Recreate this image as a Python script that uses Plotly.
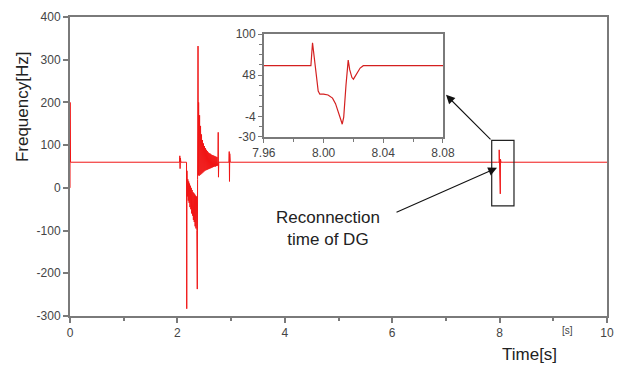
import plotly.graph_objects as go

# ---- main trace data (time [s], frequency [Hz]) ----
t_start = [0.0, 0.002, 0.005, 0.010, 2.040, 2.045, 2.050, 2.055, 2.060, 2.065]
f_start = [0, 200, 20, 60, 60, 75, 45, 70, 50, 60]

t_neg = [2.170, 2.174, 2.178, 2.186, 2.194, 2.202, 2.210, 2.218, 2.226, 2.234,
         2.242, 2.250, 2.258, 2.266, 2.274, 2.282, 2.290, 2.298, 2.306, 2.314,
         2.322, 2.330, 2.338, 2.346, 2.354, 2.362, 2.370, 2.376, 2.384, 2.390]
f_neg = [60, -283, 40, -20, 20, -30, 15, -35, 10, -45,
         5, -50, 0, -60, -5, -65, -10, -75, -12, -80,
         -15, -90, -18, -95, -20, -100, -237, 20, 332, 30]

t_pos = [2.395, 2.404, 2.413, 2.422, 2.431, 2.440, 2.449, 2.458, 2.467, 2.476,
         2.485, 2.494, 2.503, 2.512, 2.521, 2.530, 2.539, 2.548, 2.557, 2.566,
         2.575, 2.584, 2.593, 2.602, 2.611, 2.620, 2.629, 2.638, 2.647, 2.656,
         2.665, 2.674, 2.683, 2.692, 2.701, 2.710, 2.719, 2.728, 2.737, 2.746]
f_pos = [200, 28, 170, 30, 145, 32, 125, 34, 112, 36,
         104, 38, 98, 40, 93, 41, 89, 42, 86, 43,
         83, 44, 81, 45, 80, 46, 78, 47, 77, 48,
         76, 49, 75, 50, 74, 50, 73, 51, 72, 52]

t_late = [2.755, 2.760, 2.765, 2.770, 2.960, 2.965, 2.970, 2.975, 2.980, 2.985]
f_late = [60, 130, 25, 60, 60, 85, 15, 80, 20, 60]

# ---- reconnection event (also shown in the inset) ----
t_event = [7.9600, 7.9915, 7.9926, 7.9935, 7.9950, 7.9964, 7.9975, 8.0000,
           8.0030, 8.0060, 8.0080, 8.0100, 8.0115, 8.0125, 8.0135, 8.0150,
           8.0165, 8.0175, 8.0190, 8.0200, 8.0220, 8.0245, 8.0266, 8.0800]
f_event = [60, 60, 89, 75, 45, 28, 24, 24,
           23, 19, 12, 2, -8, -14, -5, 35,
           67, 55, 45, 43, 49, 57, 60, 60]

t_end = [10.0]
f_end = [60]

t_main = t_start + t_neg + t_pos + t_late + t_event + t_end
f_main = f_start + f_neg + f_pos + f_late + f_event + f_end

x_ticks_main = [0, 2, 4, 6, 8, 10]
y_ticks_main = [-300, -200, -100, 0, 100, 200, 300, 400]
y_ticklabels_main = ["-300", "-200", "-100", "0", "100", "200", "300", "400"]
x_ticks_inset = [7.96, 8.00, 8.04, 8.08]
x_ticklabels_inset = ["7.96", "8.00", "8.04", "8.08"]
y_ticks_inset = [-30, -4, 48, 100]
y_ticklabels_inset = ["-30", "-4", "48", "100"]

AX = "#7a7a7a"
TXT = "#444444"
FONT = "Liberation Sans, Arial, sans-serif"

fig = go.Figure()
fig.add_trace(go.Scatter(x=t_main, y=f_main, mode="lines",
                         line=dict(color="#f01515", width=1),
                         xaxis="x", yaxis="y", showlegend=False, hoverinfo="skip"))
fig.add_trace(go.Scatter(x=t_event, y=f_event, mode="lines",
                         line=dict(color="#d42020", width=1.2),
                         xaxis="x2", yaxis="y2", showlegend=False, hoverinfo="skip"))

fig.update_layout(
    width=617, height=367,
    margin=dict(l=70, r=10, t=17, b=51, autoexpand=False),
    paper_bgcolor="white", plot_bgcolor="white",
    font=dict(family=FONT, size=12, color=TXT),
    xaxis=dict(range=[0, 10], domain=[0, 1], tickvals=x_ticks_main,
               automargin=False,
               showgrid=False, zeroline=False, showline=True, linecolor=AX,
               linewidth=2, mirror=True, ticks="outside", ticklen=5,
               tickcolor=AX, tickwidth=1.5,
               minor=dict(dtick=1, tick0=0, ticks="outside", ticklen=3,
                          tickcolor=AX, showgrid=False),
               tickfont=dict(size=12, color=TXT)),
    yaxis=dict(range=[-300, 400], domain=[0, 1], tickvals=y_ticks_main,
               ticktext=y_ticklabels_main, automargin=False,
               showgrid=False, zeroline=False, showline=True, linecolor=AX,
               linewidth=2, mirror=True, ticks="outside", ticklen=5,
               tickcolor=AX, tickwidth=1.5, tickfont=dict(size=12, color=TXT)),
    xaxis2=dict(range=[7.96, 8.08], domain=[0.361, 0.6946], anchor="y2",
                tickvals=x_ticks_inset, ticktext=x_ticklabels_inset,
                automargin=False,
                showgrid=False, zeroline=False, showline=True, linecolor=AX,
                linewidth=1.5, mirror=True, ticks="outside", ticklen=4,
                tickcolor=AX,
                minor=dict(dtick=0.02, tick0=7.96, ticks="outside", ticklen=3,
                           tickcolor=AX, showgrid=False),
                tickfont=dict(size=12, color=TXT)),
    yaxis2=dict(range=[-30, 100], domain=[0.599, 0.943], anchor="x2",
                tickvals=y_ticks_inset, ticktext=y_ticklabels_inset,
                automargin=False, showgrid=False, zeroline=False,
                showline=True, linecolor=AX, linewidth=1.5, mirror=True,
                ticks="outside", ticklen=4, tickcolor=AX,
                minor=dict(dtick=13, tick0=-4, ticks="outside", ticklen=3,
                           tickcolor=AX, showgrid=False),
                tickfont=dict(size=12, color=TXT)),
)

# box around the reconnection event
fig.add_shape(type="rect", xref="x", yref="y", x0=7.853, x1=8.268, y0=-42, y1=111,
              line=dict(color="#222222", width=1.2), fillcolor="rgba(0,0,0,0)")

annotations = [
    dict(text="Frequency[Hz]", xref="paper", yref="paper", x=-0.0894, y=0.702,
         textangle=-90, showarrow=False, font=dict(size=17, color="#222222"),
         xanchor="center", yanchor="middle"),
    dict(text="Time[s]", xref="paper", yref="paper", x=0.8566, y=-0.130,
         showarrow=False, font=dict(size=17, color="#222222"),
         xanchor="center", yanchor="middle"),
    dict(text="[s]", xref="paper", yref="paper", x=0.927, y=-0.050,
         showarrow=False, font=dict(size=10, color=TXT),
         xanchor="center", yanchor="middle"),
    dict(text="Reconnection<br>time of DG", xref="paper", yref="paper",
         x=0.4804, y=0.294, showarrow=False, font=dict(size=17, color="#222222"),
         xanchor="center", yanchor="middle", align="center"),
    # arrow from box to inset
    dict(text="", xref="x", yref="y", x=7.002, y=217.7, ax=46, ay=46,
         showarrow=True, arrowhead=2, arrowsize=1.6, arrowwidth=1.1,
         arrowcolor="#111111"),
    # arrow from text to event
    dict(text="", xref="x", yref="y", x=7.952, y=46.8, ax=-102, ay=45,
         showarrow=True, arrowhead=2, arrowsize=1.6, arrowwidth=1.1,
         arrowcolor="#111111"),
]
fig.update_layout(annotations=annotations)

fig.write_html("out.html")
